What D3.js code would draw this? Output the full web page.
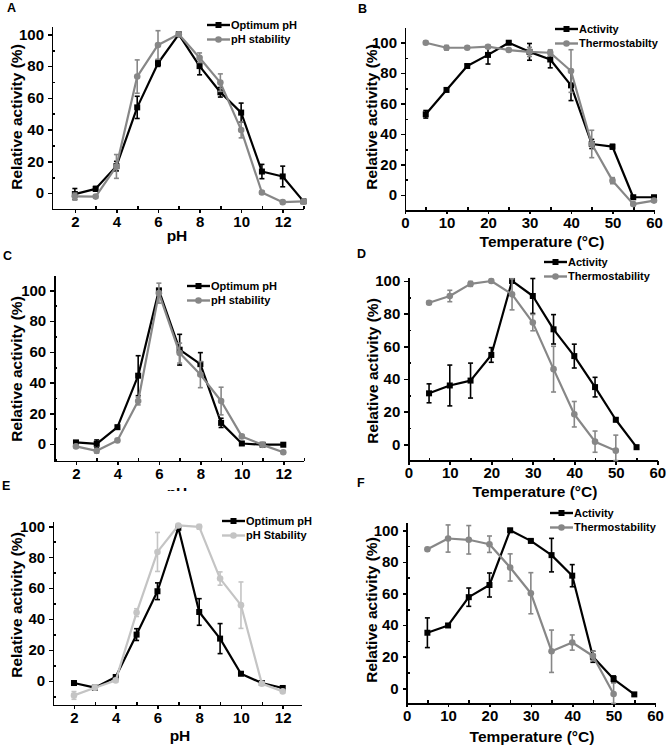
<!DOCTYPE html>
<html lang="en">
<head>
<meta charset="utf-8">
<script src="https://d3js.org/d3.v7.min.js"></script>
<style>
  body { margin: 0; background: #fff; }
  svg { font-family: "Liberation Sans", Arial, sans-serif; font-weight: bold; }
  .axis path, .axis line { stroke: #000; stroke-width: 1.6px; shape-rendering: crispEdges; }
  .axis text { font-size: 15px; font-weight: bold; fill: #000; font-family: "Liberation Sans", Arial, sans-serif; }
  .title { font-size: 15.5px; fill: #000; }
  .legend text { font-size: 11px; fill: #000; }
  .letter { font-size: 12.5px; fill: #000; }
</style>
</head>
<body>
<svg id="fig" width="671" height="746"></svg>
<script>
// ---- data ----
var phA = [2, 3, 4, 5, 6, 7, 8, 9, 10, 11, 12, 13];
var aOptimum    = [-0.6, 2.7, 17, 54, 81.8, 100, 80, 63.5, 50.7, 13.6, 10.5, -5.2];
var aOptimumErr = [3.5, 1.5, 3, 7, 2, 1, 5.5, 3, 6, 4.5, 6.5, 1];
var aStability    = [-2, -2.2, 16.8, 73.4, 93.3, 100, 85.3, 69.6, 39.8, 0.4, -5.7, -5.2];
var aStabilityErr = [2, 1, 7.5, 10.5, 9, 1, 3, 5.5, 5, 1, 1, 1];

var tempB = [5, 10, 15, 20, 25, 30, 35, 40, 45, 50, 55, 60];
var bActivity    = [53, 69, 84.7, 92, 100, 94, 89, 72, 33.5, 31.7, -1.5, -1.5];
var bActivityErr = [2.5, 1, 1, 6, 1, 5.5, 5.5, 10, 3, 1.5, 1, 1];
var bThermo    = [100, 96.7, 96.7, 97.4, 95.2, 94, 93.4, 81.4, 33.5, 9.4, -6, -3.7];
var bThermoErr = [1, 1.5, 1, 1, 1, 3, 2, 14, 9, 2, 1, 1];

var phC = [2, 3, 4, 5, 6, 7, 8, 9, 10, 11, 12];
var cOptimum    = [1.1, 0.2, 11, 44.5, 100, 61.4, 52, 13.8, 0.4, -0.4, -0.4];
var cOptimumErr = [1, 2.5, 1, 13, 1, 10, 7.5, 3, 1, 1, 1];
var cStability    = [-1.5, -4.4, 2.4, 28, 98.2, 59.2, 45.2, 28, 5, -0.5, -5.3];
var cStabilityErr = [1, 1.5, 1, 2.5, 6.5, 6.5, 8.5, 9, 1, 1, 1];

var tempD = [5, 10, 15, 20, 25, 30, 35, 40, 45, 50, 55];
var dActivity    = [31.2, 36, 39, 54.7, 100, 90.8, 70.4, 54, 35, 15, -1.8];
var dActivityErr = [5.8, 12.5, 10.7, 4.5, 1, 10.7, 9, 7.3, 6, 1, 1];
var dThermo    = [86.7, 90.8, 98.2, 100, 91.8, 74.5, 46, 18.4, 1.6, -3.9];
var dThermoErr = [1, 3.5, 1.5, 1, 9.5, 5, 14, 7.8, 6.5, 9.5];

var phE = [2, 3, 4, 5, 6, 7, 8, 9, 10, 11, 12];
var eOptimum    = [-1.3, -4.3, 2.6, 30, 58, 99, 44.6, 27.4, 4.7, -1.3, -4.5];
var eOptimumErr = [1, 1, 1, 3.8, 5.4, 1, 8.6, 9.7, 1, 1, 1];
var eStability    = [-9.3, -4.3, 0.4, 44.2, 83.4, 100.5, 99.6, 66.2, 49, -1.7, -6.7];
var eStabilityErr = [2.5, 1, 1, 2.5, 12.6, 1, 1.5, 4.3, 15, 1, 1];

var tempF = [5, 10, 15, 20, 25, 30, 35, 40, 45, 50, 55];
var fActivity    = [35.2, 39.8, 57.7, 65.4, 100, 93.3, 84.3, 71.3, 20, 5.9, -3.8];
var fActivityErr = [9.4, 1, 5.8, 7.6, 1, 1, 10.6, 7, 3.5, 2, 1];
var fThermo    = [88, 94.8, 94, 91.2, 76.5, 60.2, 23.5, 29, 20.5, -3.6];
var fThermoErr = [1, 8.6, 9, 5.2, 8.6, 13, 13.4, 4.8, 3, 7];

var phTicks = [2, 4, 6, 8, 10, 12];
var phMinor = [3, 5, 7, 9, 11, 13];
var tempTicks = [0, 10, 20, 30, 40, 50, 60];
var tempMinor = [5, 15, 25, 35, 45, 55];
var yTicks = [0, 20, 40, 60, 80, 100];
var yMinor = [-10, 10, 30, 50, 70, 90];

var BLACK = "#000", GRAY = "#878787", LIGHT = "#c4c4c4";

// ---- panel layout (pixels) ----
var panels = [
  { letter: "A", lx: 7, ly: 12, xd: [0.9, 13], xr: [52, 303.5], yd: [-10, 105], yr: [209, 26.4],
    xt: phTicks, xm: phMinor, xlabel: "pH", xlx: 177, xly: 241, ylx: 17, yly: 117,
    leg: { x: 207, y: 25 },
    series: [
      { name: "Optimum pH", x: phA, y: aOptimum, e: aOptimumErr, color: BLACK, mark: "sq" },
      { name: "pH stability", x: phA, y: aStability, e: aStabilityErr, color: GRAY, mark: "ci" }] },
  { letter: "B", lx: 358, ly: 13, xd: [0, 60], xr: [405, 654], yd: [-10, 110], yr: [210.2, 27.5],
    xt: tempTicks, xm: tempMinor, xlabel: "Temperature (\u00B0C)", xlx: 542, xly: 247, ylx: 372, yly: 117,
    leg: { x: 555, y: 29 },
    series: [
      { name: "Activity", x: tempB, y: bActivity, e: bActivityErr, color: BLACK, mark: "sq" },
      { name: "Thermostabilty", x: tempB, y: bThermo, e: bThermoErr, color: GRAY, mark: "ci" }] },
  { letter: "C", lx: 3, ly: 260, xd: [0.95, 12.95], xr: [54.2, 303], yd: [-11, 110], yr: [461, 275],
    xt: phTicks, xm: phMinor, xlabel: "pH", xlx: 177, xly: 498, ylx: 17, yly: 369, clipBelow: 491,
    leg: { x: 187, y: 286 },
    series: [
      { name: "Optimum pH", x: phC, y: cOptimum, e: cOptimumErr, color: BLACK, mark: "sq" },
      { name: "pH stability", x: phC, y: cStability, e: cStabilityErr, color: GRAY, mark: "ci" }] },
  { letter: "D", lx: 357, ly: 258, xd: [0, 60], xr: [408.3, 657.3], yd: [-10, 102], yr: [460.6, 277.7],
    xt: tempTicks, xm: tempMinor, xlabel: "Temperature (\u00B0C)", xlx: 535, xly: 497, ylx: 373, yly: 371,
    leg: { x: 544, y: 262 },
    series: [
      { name: "Activity", x: tempD, y: dActivity, e: dActivityErr, color: BLACK, mark: "sq" },
      { name: "Thermostability", x: tempD.slice(0, dThermo.length), y: dThermo, e: dThermoErr, color: GRAY, mark: "ci" }] },
  { letter: "E", lx: 2, ly: 490, xd: [1, 12.9], xr: [53.1, 301.5], yd: [-15.5, 103], yr: [705, 521.6],
    xt: phTicks, xm: phMinor.slice(0, 5), xlabel: "pH", xlx: 180, xly: 741, ylx: 17, yly: 605,
    leg: { x: 222, y: 521 },
    series: [
      { name: "Optimum pH", x: phE, y: eOptimum, e: eOptimumErr, color: BLACK, mark: "sq" },
      { name: "pH Stability", x: phE, y: eStability, e: eStabilityErr, color: LIGHT, mark: "ci" }] },
  { letter: "F", lx: 357, ly: 487, xd: [0, 60], xr: [406.7, 655], yd: [-9.5, 105], yr: [703.4, 522.4],
    xt: tempTicks, xm: tempMinor, xlabel: "Temperature (\u00B0C)", xlx: 532, xly: 742, ylx: 372, yly: 610,
    leg: { x: 550, y: 513 },
    series: [
      { name: "Activity", x: tempF, y: fActivity, e: fActivityErr, color: BLACK, mark: "sq" },
      { name: "Thermostability", x: tempF.slice(0, fThermo.length), y: fThermo, e: fThermoErr, color: GRAY, mark: "ci" }] }
];

var svg = d3.select("#fig");
var defs = svg.append("defs");

function marker(g, m, cx, cy, color) {
  if (m === "sq") {
    g.append("rect").attr("x", cx - 3).attr("y", cy - 3).attr("width", 6).attr("height", 6).attr("fill", color);
  } else {
    g.append("circle").attr("cx", cx).attr("cy", cy).attr("r", 3.3).attr("fill", color);
  }
}

panels.forEach(function(p, pi) {
  var x = d3.scaleLinear().domain(p.xd).range(p.xr);
  var y = d3.scaleLinear().domain(p.yd).range(p.yr);
  var g = svg.append("g");

  // axes
  g.append("g").attr("class", "axis").attr("transform", "translate(0," + p.yr[0] + ")")
    .call(d3.axisBottom(x).tickValues(p.xt).tickSize(4).tickPadding(3).tickSizeOuter(0));
  g.append("g").attr("class", "axis").attr("transform", "translate(0," + p.yr[0] + ")")
    .call(d3.axisTop(x).tickValues(p.xm).tickSize(3).tickFormat("").tickSizeOuter(0));
  g.append("g").attr("class", "axis").attr("transform", "translate(" + p.xr[0] + ",0)")
    .call(d3.axisLeft(y).tickValues(yTicks).tickSize(4).tickPadding(4).tickSizeOuter(0));
  g.append("g").attr("class", "axis").attr("transform", "translate(" + p.xr[0] + ",0)")
    .call(d3.axisRight(y).tickValues(yMinor.filter(function(v) { return v > p.yd[0]; }))
      .tickSize(3).tickFormat("").tickSizeOuter(0));

  // titles
  var xt = g.append("text").attr("class", "title").attr("x", p.xlx).attr("y", p.xly)
    .attr("text-anchor", "middle").text(p.xlabel);
  if (p.clipBelow) {
    defs.append("clipPath").attr("id", "clip" + pi).append("rect")
      .attr("x", 0).attr("y", 0).attr("width", 671).attr("height", p.clipBelow);
    xt.attr("clip-path", "url(#clip" + pi + ")");
  }
  g.append("text").attr("class", "title")
    .attr("transform", "translate(" + p.ylx + "," + p.yly + ") rotate(-90)")
    .attr("text-anchor", "middle").attr("dy", "0.35em").text("Relative activity (%)");
  g.append("text").attr("class", "letter").attr("x", p.lx).attr("y", p.ly).text(p.letter);

  // series
  var line = d3.line().x(function(d) { return x(d[0]); }).y(function(d) { return y(d[1]); });
  p.series.forEach(function(s) {
    var pts = s.x.map(function(v, i) { return [v, s.y[i], s.e[i]]; });
    var sg = g.append("g");
    pts.forEach(function(d) {
      var lo = Math.max(d[1] - d[2], p.yd[0]), hi = d[1] + d[2];
      var cx = x(d[0]);
      sg.append("line").attr("x1", cx).attr("x2", cx).attr("y1", y(lo)).attr("y2", y(hi))
        .attr("stroke", s.color).attr("stroke-width", 1.6);
      [lo, hi].forEach(function(v) {
        sg.append("line").attr("x1", cx - 2.5).attr("x2", cx + 2.5).attr("y1", y(v)).attr("y2", y(v))
          .attr("stroke", s.color).attr("stroke-width", 1.6);
      });
    });
    sg.append("path").datum(pts).attr("d", line).attr("fill", "none")
      .attr("stroke", s.color).attr("stroke-width", 2.2).attr("stroke-linejoin", "round");
    pts.forEach(function(d) { marker(sg, s.mark, x(d[0]), y(d[1]), s.color); });
  });

  // legend
  var lg = g.append("g").attr("class", "legend");
  p.series.forEach(function(s, i) {
    var ly = p.leg.y + i * 14.5;
    lg.append("line").attr("x1", p.leg.x).attr("x2", p.leg.x + 23).attr("y1", ly).attr("y2", ly)
      .attr("stroke", s.color).attr("stroke-width", 2.4);
    marker(lg, s.mark, p.leg.x + 11.5, ly, s.color);
    lg.append("text").attr("x", p.leg.x + 24).attr("y", ly).attr("dy", "0.36em").text(s.name);
  });
});
</script>
</body>
</html>
